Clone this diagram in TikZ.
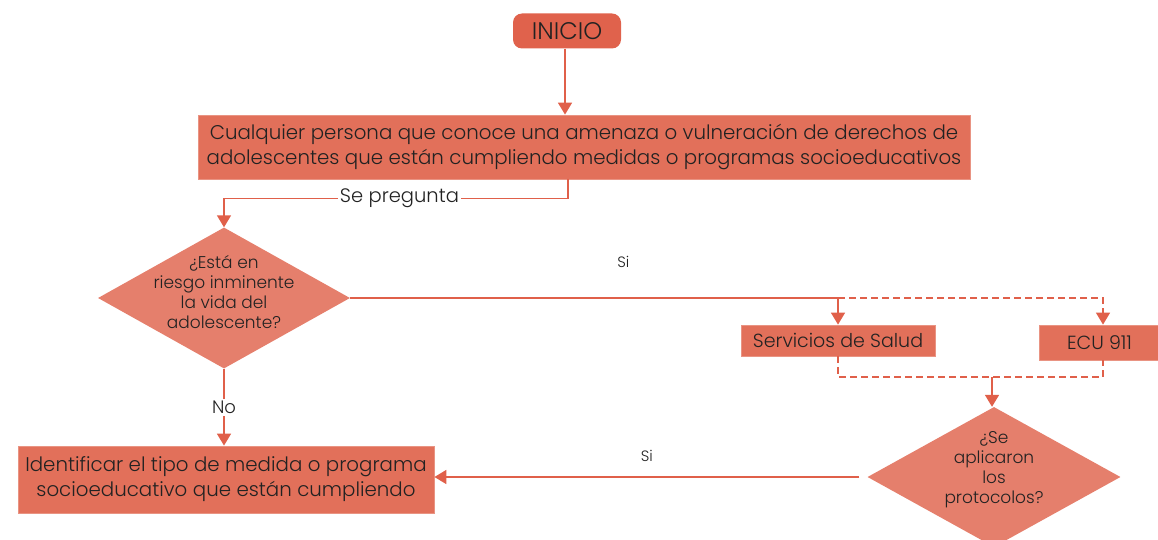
\documentclass[tikz,border=0pt]{standalone}
\usepackage{fontspec}
\setmainfont{Poppins Light}
\usetikzlibrary{arrows.meta,shapes.geometric}
\definecolor{boxc}{RGB}{226,112,90}
\definecolor{inic}{RGB}{224,98,76}
\definecolor{diac}{RGB}{229,127,108}
\definecolor{linec}{RGB}{224,96,74}
\definecolor{txt}{RGB}{34,34,34}
\tikzset{
  box/.style={rectangle, fill=boxc, draw=boxc!75!white, line width=0.8pt, inner sep=0pt, text=txt, align=center},
  startbox/.style={rectangle, rounded corners=9pt, fill=inic, draw=none, inner sep=0pt, text=txt,
    minimum width=108pt, minimum height=35pt, font=\fontsize{24}{26}\selectfont},
  dia/.style={diamond, fill=diac, draw=none, inner sep=0pt},
  diatext/.style={text=txt, align=center, font=\fontsize{17}{20}\selectfont, inner sep=0pt},
  conn/.style={draw=linec, line width=1.6pt, -{Triangle[width=14pt,length=12pt]}},
  dconn/.style={dash pattern=on 7pt off 4pt},
  lbl/.style={text=txt, fill=white, inner sep=2pt, font=\fontsize{19.5}{22}\selectfont},
  nlbl/.style={text=txt, fill=white, inner sep=2pt, font=\fontsize{18}{20}\selectfont},
  slbl/.style={text=txt, inner sep=0pt, font=\fontsize{15}{17}\selectfont}
}
\begin{document}
\begin{tikzpicture}[x=1pt,y=-1pt]
\useasboundingbox (0,0) rectangle (1158,540);

\node[startbox] (ini) at (567,31) {INICIO};
\node[box, minimum width=772pt, minimum height=64pt, font=\fontsize{19.8}{25}\selectfont] (main) at (584,147)
  {Cualquier persona que conoce una amenaza o vulneración de derechos de\\adolescentes que están cumpliendo medidas o programas socioeducativos};

\node[dia, minimum width=252pt, minimum height=141pt] (d1) at (224,298) {};
\node[diatext] (d1t) at (224,292) {¿Está en\\riesgo inminente\\la vida del\\adolescente?};

\node[box, minimum width=194pt, minimum height=31pt, font=\fontsize{19}{20}\selectfont] (serv) at (838,340.5) {Servicios de Salud};
\node[box, minimum width=124pt, minimum height=35pt, font=\fontsize{19}{20}\selectfont] (ecu) at (1101,342.5) {\hspace*{-3pt}ECU 911};

\node[dia, minimum width=253pt, minimum height=140pt] (d2) at (994,477) {};
\node[diatext] (d2t) at (994,470) {¿Se\\aplicaron\\los\\protocolos?};

\node[box, minimum width=416pt, minimum height=67pt, font=\fontsize{19.8}{25}\selectfont] (lb) at (226,479.5)
  {Identificar el tipo de medida o programa\\socioeducativo que están cumpliendo};

\coordinate (m) at (992,377);

% connectors
\draw[conn] (ini.south -| 565,0) -- (565,0 |- main.north);
\draw[conn] ([xshift=-16pt]main.south) -- ++(0,19) -| node[lbl, pos=0.245] (sep) {Se pregunta} (d1.north);
\draw[conn] (d1.east) -| node[slbl, pos=0.28, above=30pt] (si1) {Si} (serv.north);
\draw[conn, dconn] (serv.north |- d1.east) -| ([xshift=2pt]ecu.north);
\draw[draw=linec, line width=1.6pt, dconn] (serv.south) |- (m) -| ([xshift=2pt]ecu.south);
\draw[conn] (m) -- (m |- d2.north);
\draw[conn] (d1.south) -- node[nlbl] (no) {No} (d1.south |- lb.north);
\draw[conn] ([xshift=-8pt]d2.west) -- node[slbl, above=15pt] (si2) {Si} (d2.west -| lb.east);
\end{tikzpicture}
\end{document}
